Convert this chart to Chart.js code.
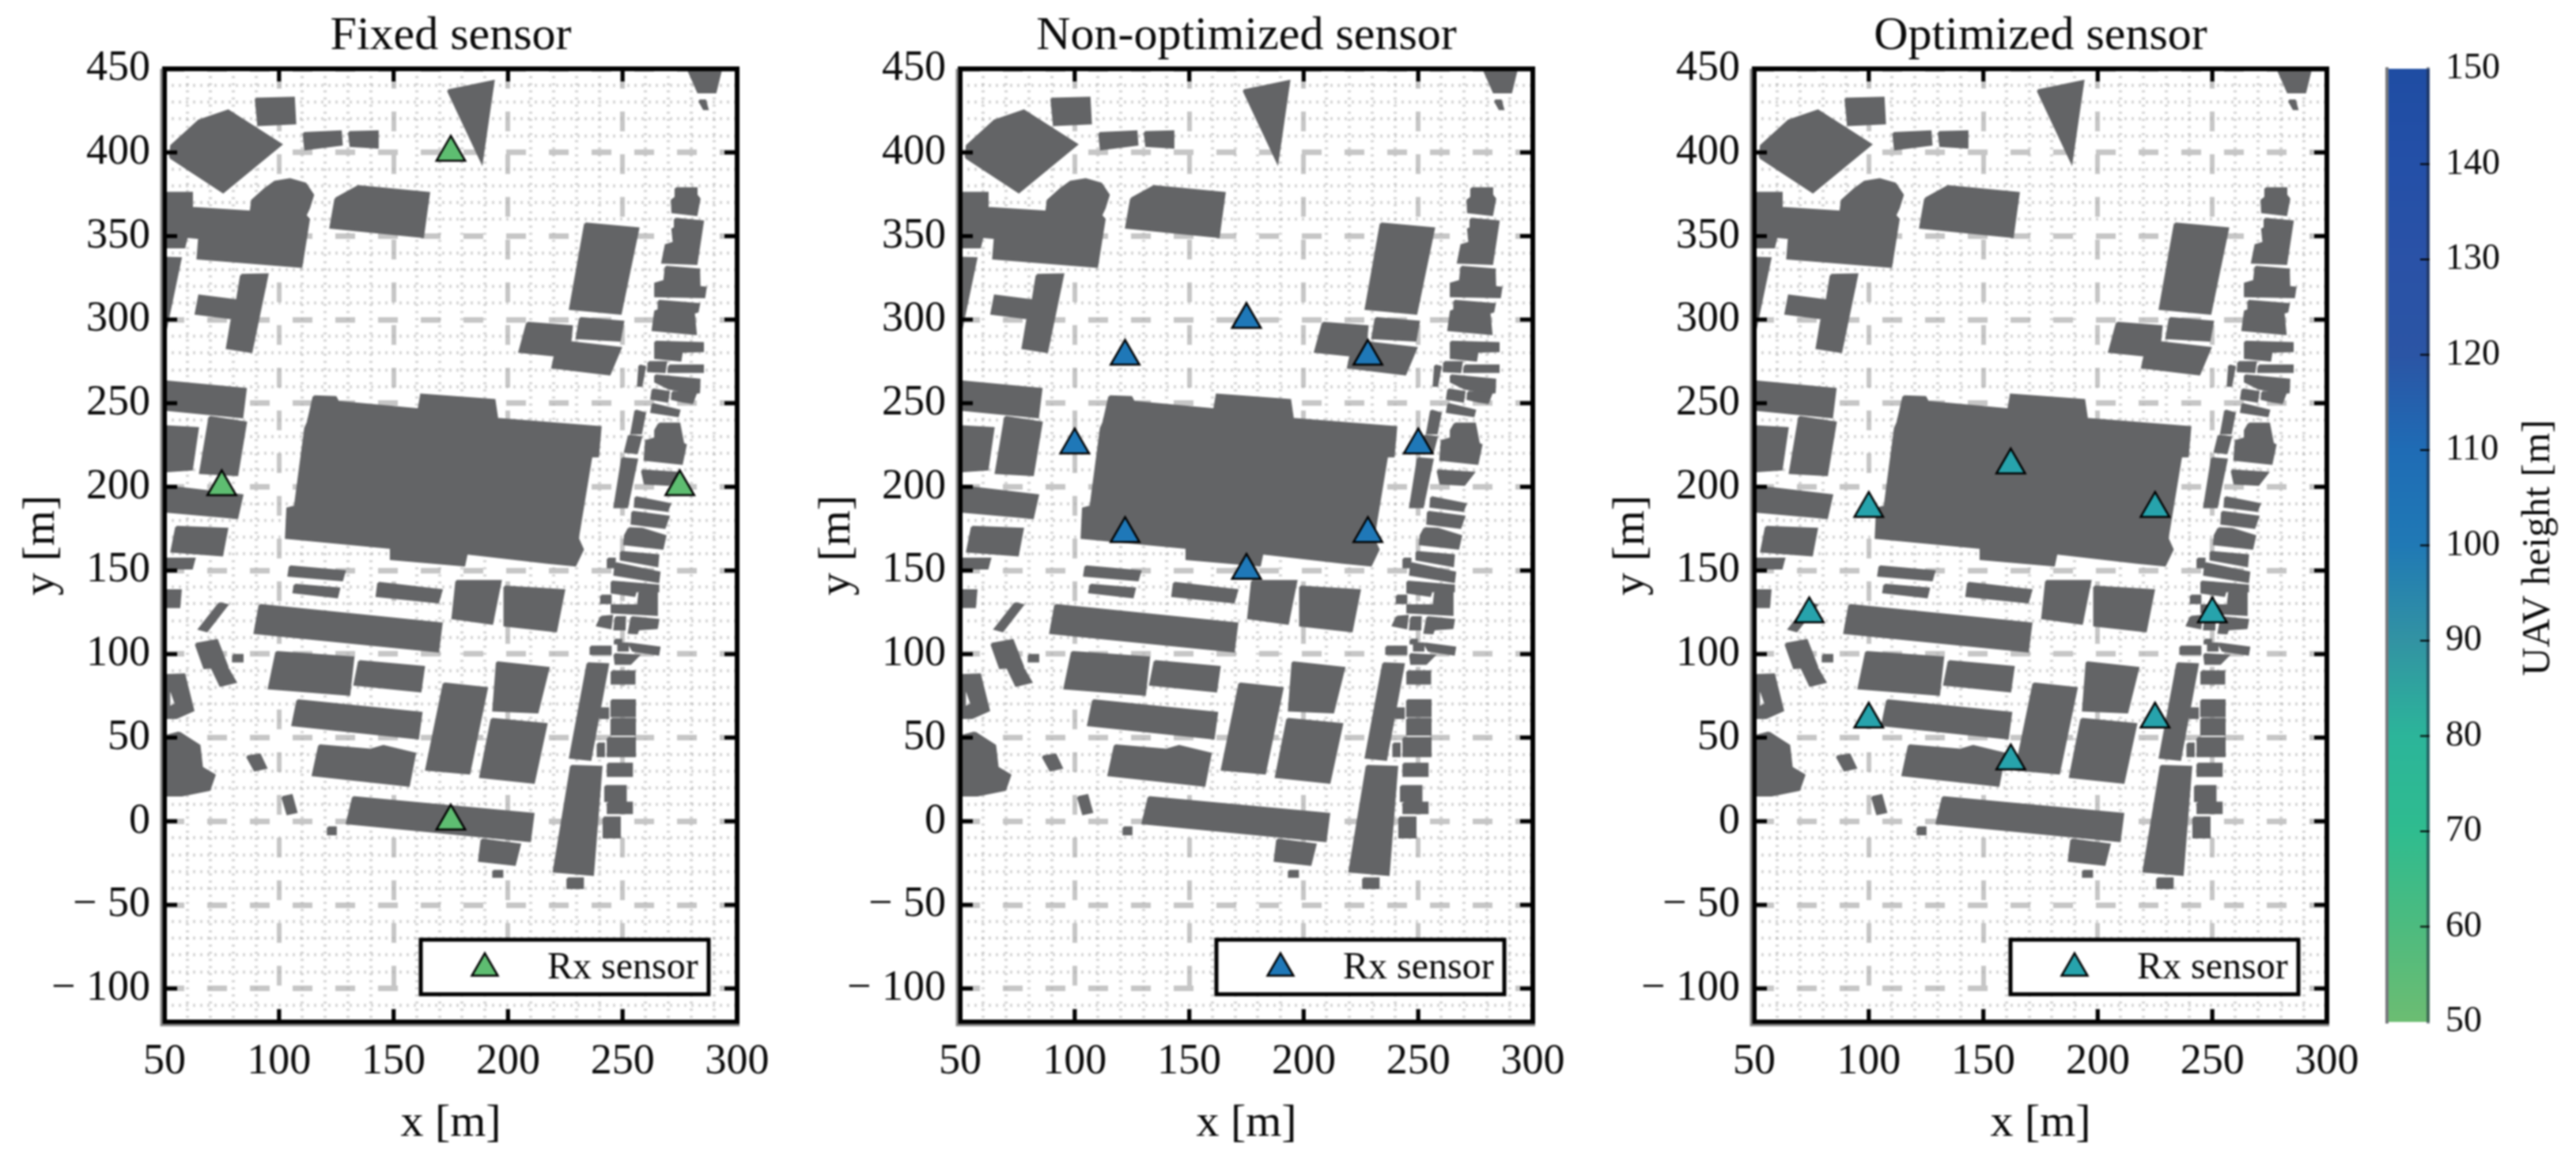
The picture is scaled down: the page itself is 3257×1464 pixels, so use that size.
<!DOCTYPE html>
<html>
<head>
<meta charset="utf-8">
<title>UAV sensor placement</title>
<script src="https://cdn.jsdelivr.net/npm/chart.js@4"></script>
<style>
    html, body { margin: 0; padding: 0; background: #fff; }
    body { position: relative; width: 3257px; height: 1464px; overflow: hidden; }
    canvas { position: absolute; top: 0; filter: blur(0.9px); }
</style>
</head>
<body>
<canvas id="panel0" width="1000" height="1464" style="left:0"></canvas>
<canvas id="panel1" width="1000" height="1464" style="left:1006px"></canvas>
<canvas id="panel2" width="1000" height="1464" style="left:2010px"></canvas>
<canvas id="colorbar" width="277" height="1464" style="left:2980px"></canvas>
<script>
// ========================================
// DATA
// ========================================

const panelTitles = ['Fixed sensor', 'Non-optimized sensor', 'Optimized sensor'];
const legendLabel = 'Rx sensor';
const xTicksStep = 50;
const yTicksStep = 50;
const minorStep = 10;

const fixedSensors = [[175, 400], [75, 200], [275, 200], [175, 0]];
const nonOptimizedSensors = [[175, 300], [122, 278], [228, 278], [100, 225], [250, 225], [122, 172], [228, 172], [175, 150]];
const optimizedSensors = [[162, 213], [100, 187], [225, 187], [74, 124], [250, 124], [100, 61], [225, 61], [162, 36]];
const sensorColors = ['#5ebd71', '#1f78b8', '#27a3ac'];

const heightTicks = [50, 60, 70, 80, 90, 100, 110, 120, 130, 140, 150];
const heightColors = ['#6cbd72', '#4dbb7f', '#2fbc8f', '#2cb59a', '#3293a3', '#2079b5', '#1f6cb5', '#2b55a5', '#2a52a7', '#2450a8', '#1f4da3'];

// building footprints, x/y in metres
const buildings = [
    [[52.5, 397], [53, 404], [65, 419], [77.8, 425], [100.9, 404.7], [75.6, 376.3]],
    [[89.9, 432], [106.4, 432.6], [107, 417.4], [91, 416.5]],
    [[110.8, 411.4], [126.9, 412.5], [127.3, 404.7], [111.5, 402]],
    [[130.6, 412], [143, 412.5], [143, 403], [131.3, 404]],
    [[173.8, 437], [193.6, 442.6], [188.5, 394.2]],
    [[278.5, 450], [293, 450], [290.5, 436], [283, 436]],
    [[283.5, 431], [286, 431], [287, 426], [285.5, 426]],
    [[50, 375.7], [61.9, 375.7], [61.9, 366.7], [87.7, 364.5], [88.3, 371.2], [93.8, 378], [98.2, 382.4], [104.8, 383.9], [111.5, 381.3], [114.8, 374.6], [113, 366.7], [111.5, 362.3], [113, 360], [109.7, 331.7], [64.5, 336.6], [65.2, 348.9], [59.7, 349.6], [58.6, 343.3], [50, 343.3]],
    [[124.7, 372.3], [134.6, 379.7], [165.4, 375.7], [162.8, 349.6], [122.5, 355.1]],
    [[50, 337], [57, 336.6], [50.5, 294], [50, 294]],
    [[83.5, 326.6], [94.9, 327], [87.9, 280.8], [77.3, 283], [79.5, 300.9], [63.7, 303.6], [65.2, 314.3], [81.7, 311.4]],
    [[233.7, 357.4], [256.8, 354.5], [249.1, 303.6], [227.1, 306.5]],
    [[231.5, 300.9], [250.2, 298.7], [248.7, 287.5], [230, 289]],
    [[208.4, 298], [227.8, 296], [227.1, 286.4], [249.1, 283], [244.3, 267.4], [219.4, 271.4], [220.5, 278.6], [205, 280.8]],
    // main hall
    [[115.2, 254], [124.7, 253.6], [125.8, 250.7], [161, 246.2], [162.1, 255.1], [194, 251.8], [195.2, 240.6], [240.3, 235.7], [239.2, 218.3], [236.3, 218.3], [230.4, 169.2], [232.6, 162.5], [229.3, 153.1], [217.2, 154.7], [181.9, 160.3], [180.8, 153.1], [148.9, 156.9], [148.9, 163.6], [103.1, 169.6], [103.7, 187], [107, 188.2], [111.5, 235], [112.6, 238.4]],
    // west side
    [[50, 263], [85.4, 258.5], [83.9, 241.7], [50, 246.2]],
    [[50, 236.2], [64.5, 235], [61.9, 210.5], [50, 209.4]],
    [[69.7, 241.7], [85.5, 238.4], [81.7, 207.1], [65.6, 208.3]],
    [[50, 200.4], [83.9, 194.9], [81.7, 181.5], [50, 185.3]],
    [[55.2, 176], [77.3, 174.8], [75.1, 159.1], [53.1, 161.4]],
    [[50, 156.9], [63, 156.9], [61.9, 151.3], [50, 151.3]],
    [[50, 138], [57, 138], [56.4, 128.2], [50, 128.2]],
    [[74, 130.4], [77.3, 129.3], [68.5, 113.8], [65.2, 115]],
    [[63.7, 106], [72.9, 108.3], [77.3, 92.8], [67.4, 91.7]],
    [[70.7, 91.7], [76.9, 92.8], [81, 83.3], [74.4, 81.1]],
    [[80, 99.4], [84, 99.4], [84, 95.7], [80, 95.7]],
    [[50, 87.3], [58.6, 87.7], [62.5, 66.3], [55.2, 61.9], [50, 61.9], [50, 72.9], [52, 72.9], [52, 68], [55, 70], [53, 78], [52, 78], [52, 73.1], [50, 73.1]],
    [[56.4, 53], [65.2, 45.3], [66.3, 32], [71.8, 27.6], [69.6, 18.8], [57.5, 15.5], [50, 15.5], [50, 50.8]],
    [[86.1, 38.7], [91.6, 39.8], [94.3, 32], [89.4, 30.5]],
    [[101.5, 14.4], [105.5, 15.5], [107.5, 5.5], [103.7, 4.4]],
    [[121.4, -3.8], [124.7, -3.8], [124.7, -7.7], [121.4, -7.7]],
    // south block
    [[91.6, 129.3], [170.9, 118.2], [169.4, 101.7], [89.4, 112.7]],
    [[98.9, 101.2], [132.4, 97.9], [130.6, 75.8], [95.6, 79.6]],
    [[135, 95.7], [163.2, 92.2], [161.7, 77.8], [133, 81.8]],
    [[108.1, 72.3], [162.1, 64.8], [160.6, 49.7], [105.9, 57.5]],
    [[117.6, 45.3], [140, 42.7], [145.6, 44.9], [159.3, 40.4], [156.6, 21.4], [114.8, 27.6]],
    [[132.4, 14.4], [211, 4.4], [209.5, -11.7], [129.7, -1.1]],
    [[188.5, -11], [205.1, -13.9], [202.9, -25.9], [187.4, -23.6]],
    [[193.6, -29.8], [197.4, -29.8], [197.4, -33.1], [193.6, -33.1]],
    [[172, 82.4], [190.7, 79.6], [183, 28.7], [164.3, 30.9]],
    [[195.2, 95], [217.6, 91.7], [212.8, 65.2], [193.6, 66.3]],
    [[192.9, 61.2], [216.7, 58.1], [211.2, 23.2], [187.9, 26.5]],
    [[177.5, 143.6], [196.7, 143.6], [193, 118.2], [175.8, 121.5]],
    [[198.5, 140.3], [224.4, 138.1], [220.9, 113.8], [198.5, 117.1]],
    [[143.4, 142.5], [170.9, 138.1], [169.4, 131], [142.7, 134.8]],
    [[107, 141.4], [126.2, 139.2], [125.3, 134.1], [106.4, 137]],
    [[104.8, 152.4], [128.6, 149.5], [127.5, 144.2], [104.2, 146.9]],
    [[227.6, 33], [240.7, 32.5], [237, -32], [220, -30]],
    [[234.8, 94.4], [243.6, 93.9], [235.9, 36.9], [227.1, 38.2]],
    [[226, -34.3], [232.6, -34.3], [232.6, -39.8], [226, -39.8]],
    // east strip, south to north
    [[245.2, 72.3], [255.3, 72.3], [255.3, 63], [245.2, 63]],
    [[245.2, 61.2], [255.3, 61.2], [255.3, 51.9], [245.2, 51.9]],
    [[243.6, 49.7], [255.3, 49.7], [255.3, 39.1], [243.6, 39.1]],
    [[243.6, 34.3], [254, 34.3], [254, 27.2], [243.6, 27.2]],
    [[242.5, 21], [251.3, 21], [251.3, 12.2], [242.5, 12.2]],
    [[243.6, 11], [254, 11], [254, 5], [243.6, 5]],
    [[241.8, 2.2], [248.7, 2.2], [248.7, -9.5], [241.8, -9.5]],
    [[240.3, 67.4], [243.6, 67.4], [243.6, 61.9], [240.3, 61.9]],
    [[239.2, 46.4], [241.8, 46.4], [241.8, 39.1], [239.2, 39.1]],
    [[245.3, 89.6], [255.1, 89.6], [255.1, 82.5], [245.3, 82.5]],
    [[246.5, 99.8], [256.8, 99], [253.4, 94.3], [247, 94.3]],
    [[252.8, 106.2], [266, 103.8], [265.5, 99.8], [254.5, 102.2]],
    [[248.2, 106.2], [252.2, 106.2], [252.2, 102.2], [248.2, 102.2]],
    [[236.1, 104.3], [244.7, 104.3], [244.7, 100.2], [236.1, 100.2]],
    [[246.7, 108.5], [249.3, 108.5], [249.3, 106.5], [246.7, 106.5]],
    [[254, 121.9], [265.5, 120.4], [264.9, 115.6], [256.8, 114.8], [256.2, 112.5], [252.8, 112.8]],
    [[247, 121.9], [251, 121.9], [250.8, 114.8], [246.5, 114.8]],
    [[240.7, 122.2], [245.3, 122.7], [244.7, 115.6], [239, 117.2]],
    [[257.4, 136.9], [264.9, 136.9], [264.9, 123.5], [245.3, 125], [245.3, 129], [256.8, 129]],
    [[240.7, 134.9], [244.7, 134.9], [244.7, 130.6], [240.7, 130.6]],
    [[245.3, 143.2], [265.5, 140.9], [265.5, 137.7], [255.7, 137.7], [255.1, 134.9], [245.3, 136.9]],
    [[247, 154.3], [266, 148.7], [265.5, 143.2], [246.5, 147.5]],
    [[243.6, 157], [246.5, 157], [246.5, 152], [243.6, 152]],
    [[249.3, 161], [265.5, 159], [265.1, 152.7], [249.3, 156.6]],
    [[252.8, 175.2], [258.6, 174.8], [268.6, 170.5], [267.4, 163.2], [250.8, 165.8], [251.1, 170.8]],
    [[254.3, 185], [270, 182.2], [268.3, 175.6], [254, 178]],
    [[255.7, 193.7], [270.6, 189.7], [269.5, 185.8], [255.4, 188.2]],
    [[249.9, 217], [256.2, 216.3], [251.9, 188], [246.5, 188]],
    [[258.5, 209.7], [274.1, 208.4], [270.1, 201.3], [259.7, 202.1]],
    [[266, 237.7], [274.7, 237.7], [276.4, 225.8], [277.5, 225], [275.8, 213.9], [259.7, 216.3], [260.3, 227.4], [264.3, 229], [264.3, 233.7]],
    [[252.8, 230.5], [258, 229.7], [256.2, 220.3], [251.1, 221]],
    [[255.7, 245.6], [259.7, 244], [258, 232.1], [253.9, 232.1]],
    [[263.2, 249.5], [274.7, 245.6], [274.1, 242.4], [262.6, 244.8]],
    [[263.2, 258.2], [270.1, 256.6], [269.5, 251.1], [262.6, 252.7]],
    [[271.8, 256.6], [281.9, 255.9], [280.4, 250.3], [276.4, 251.1], [271.6, 252.6]],
    [[264.3, 266.6], [283.5, 264.1], [283.3, 256.6], [279.8, 256.2], [270.1, 259], [264.3, 262.9]],
    [[257.4, 272.5], [259.7, 271.7], [258.2, 260.6], [256.8, 260.6]],
    [[270.4, 272.5], [285, 272.5], [285, 268.8], [270.1, 268.8]],
    [[261.4, 274.5], [268.9, 274.5], [268.3, 268.8], [261.2, 269.3]],
    [[264.3, 286.7], [285, 285.9], [285, 281.2], [275.8, 280.9], [275.2, 275.6], [264.3, 277.2]],
    [[265.8, 311.2], [283.3, 309.2], [282.7, 304.9], [281, 304.1], [281.9, 291.5], [263.2, 293.8], [264.3, 304.9], [265.8, 305.7]],
    [[268.9, 331.5], [283.3, 329.9], [283.5, 319.5], [286.2, 319.1], [285.6, 313.6], [264.3, 314.1], [264.3, 321.5], [268.3, 323.1]],
    [[272.9, 360.3], [285, 358.7], [282.2, 333.4], [267.4, 334.2], [268.9, 344.5], [272.4, 346], [271.8, 354], [272.9, 354.7]],
    [[273.2, 378.5], [282.2, 378.5], [282.2, 374.5], [283.5, 372.2], [282.2, 362.7], [271.8, 364.3], [271.6, 371.4], [273.2, 373]]
];

// ========================================
// STYLE
// ========================================

const FONT_FAMILY = '"Liberation Serif", "Times New Roman", serif';
const TEXT_COLOR = '#0a0a0a';
const BUILDING_COLOR = '#636466';
const MAJOR_GRID = '#c6c6c6';
const MINOR_GRID = 'rgba(175, 175, 175, 0.5)';

const sensorSets = [fixedSensors, nonOptimizedSensors, optimizedSensors];

// ========================================
// PLUGINS
// ========================================

// black box with inward ticks on all four sides
const framePlugin = {
    id: 'frame',
    afterDatasetsDraw(chart) {
        const { ctx, chartArea: a, scales } = chart;
        ctx.save();
        ctx.strokeStyle = '#000';
        ctx.lineWidth = 5;
        scales.x.ticks.forEach((t, i) => {
            const px = scales.x.getPixelForTick(i);
            ctx.beginPath();
            ctx.moveTo(px, a.top); ctx.lineTo(px, a.top + 16);
            ctx.moveTo(px, a.bottom); ctx.lineTo(px, a.bottom - 16);
            ctx.stroke();
        });
        scales.y.ticks.forEach((t, i) => {
            const py = scales.y.getPixelForTick(i);
            ctx.beginPath();
            ctx.moveTo(a.left, py); ctx.lineTo(a.left + 16, py);
            ctx.moveTo(a.right, py); ctx.lineTo(a.right - 16, py);
            ctx.stroke();
        });
        ctx.lineWidth = 6;
        ctx.strokeRect(a.left, a.top, a.right - a.left, a.bottom - a.top);
        // resampling fringe on the left and bottom edge
        ctx.strokeStyle = '#8a8a8a';
        ctx.lineWidth = 3;
        ctx.beginPath();
        ctx.moveTo(a.left - 4, a.top);
        ctx.lineTo(a.left - 4, a.bottom + 4);
        ctx.lineTo(a.right + 3, a.bottom + 4);
        ctx.stroke();
        ctx.restore();
    }
};

const sensorLegendPlugin = {
    id: 'sensorLegend',
    afterDraw(chart) {
        const { ctx, chartArea: a } = chart;
        const ds = chart.data.datasets[0];
        const left = a.left + 324;
        const top = a.top + 1101;
        ctx.save();
        ctx.fillStyle = '#fff';
        ctx.strokeStyle = '#000';
        ctx.lineWidth = 5;
        ctx.fillRect(left, top, 364, 69);
        ctx.strokeRect(left, top, 364, 69);
        ctx.fillStyle = ds.pointBackgroundColor;
        ctx.lineWidth = 2.5;
        Chart.helpers.drawPoint(ctx, { pointStyle: 'triangle', radius: 19, borderWidth: 2.5 }, left + 81, top + 36);
        ctx.fillStyle = TEXT_COLOR;
        ctx.font = `48px ${FONT_FAMILY}`;
        ctx.textBaseline = 'middle';
        ctx.fillText(ds.label, left + 160, top + 36);
        ctx.restore();
    }
};

const colorbarPlugin = {
    id: 'colorbarDecor',
    afterDraw(chart) {
        const { ctx, chartArea: a, scales } = chart;
        ctx.save();
        ctx.fillStyle = '#77787c';
        ctx.fillRect(a.left, a.top - 2, 4, a.bottom - a.top + 4);
        ctx.fillStyle = 'rgba(30, 40, 60, 0.55)';
        ctx.fillRect(a.right - 4, a.top - 2, 4, a.bottom - a.top + 4);
        ctx.strokeStyle = '#000';
        ctx.lineWidth = 2;
        scales.y.ticks.forEach((t, i) => {
            const py = scales.y.getPixelForTick(i);
            if (i === 0 || i === scales.y.ticks.length - 1) return;
            ctx.beginPath();
            ctx.moveTo(a.right, py); ctx.lineTo(a.right - 12, py);
            ctx.stroke();
        });
        ctx.translate(a.right + 138, (a.top + a.bottom) / 2 + 3);
        ctx.rotate(-Math.PI / 2);
        ctx.fillStyle = TEXT_COLOR;
        ctx.font = `50px ${FONT_FAMILY}`;
        ctx.textAlign = 'center';
        ctx.textBaseline = 'middle';
        ctx.fillText('UAV height [m]', 0, 0);
        ctx.restore();
    }
};

// ========================================
// CHART BUILDERS
// ========================================

function buildingDatasets() {
    return buildings.map(poly => ({
        label: 'building',
        data: [...poly, poly[0]],
        showLine: true,
        fill: 'shape',
        backgroundColor: BUILDING_COLOR,
        borderColor: BUILDING_COLOR,
        borderWidth: 3,
        pointRadius: 0
    }));
}

function createPanel(index) {
    const minorColor = ctx => (ctx.tick && ctx.tick.value % 50 === 0 ? 'rgba(0,0,0,0)' : MINOR_GRID);
    const hiddenAxis = (axis, position, min, max) => ({
        axis: axis,
        type: 'linear',
        position: position,
        min: min,
        max: max,
        ticks: { display: false, stepSize: minorStep, includeBounds: false },
        border: { display: false, dash: [3, 6] },
        grid: { color: minorColor, lineWidth: 4, drawTicks: false }
    });

    new Chart(document.getElementById(`panel${index}`), {
        type: 'scatter',
        data: {
            datasets: [{
                label: legendLabel,
                data: sensorSets[index],
                pointStyle: 'triangle',
                pointRadius: 21,
                pointHoverRadius: 21,
                pointBackgroundColor: sensorColors[index],
                pointBorderColor: '#000',
                pointBorderWidth: 2.5
            }, ...buildingDatasets()]
        },
        options: {
            responsive: false,
            animation: false,
            devicePixelRatio: 1,
            layout: { padding: { left: 0, right: 68, top: 0, bottom: 0 } },
            plugins: {
                legend: { display: false },
                tooltip: { enabled: false },
                title: {
                    display: true,
                    fullSize: false,
                    text: panelTitles[index],
                    color: TEXT_COLOR,
                    font: { family: FONT_FAMILY, size: 60, weight: 'normal', lineHeight: 1.2 },
                    padding: { top: 10, bottom: 5 }
                }
            },
            scales: {
                x: {
                    type: 'linear',
                    min: 50,
                    max: 300,
                    afterFit: scale => { scale.height = 172; },
                    ticks: {
                        stepSize: xTicksStep,
                        color: TEXT_COLOR,
                        font: { family: FONT_FAMILY, size: 54 },
                        padding: 18,
                        maxRotation: 0
                    },
                    border: { display: false, dash: [25, 29] },
                    grid: { color: MAJOR_GRID, lineWidth: 6, drawTicks: false },
                    title: {
                        display: true,
                        text: 'x [m]',
                        color: TEXT_COLOR,
                        font: { family: FONT_FAMILY, size: 58 },
                        padding: { top: 0, bottom: 8 }
                    }
                },
                y: {
                    type: 'linear',
                    min: -120,
                    max: 450,
                    afterFit: scale => { scale.width = 208; },
                    ticks: {
                        stepSize: yTicksStep,
                        includeBounds: false,
                        color: TEXT_COLOR,
                        font: { family: FONT_FAMILY, size: 54 },
                        padding: 18,
                        callback: v => (v < 0 ? `\u2212 ${-v}` : `${v}`)
                    },
                    border: { display: false, dash: [25, 29] },
                    grid: { color: MAJOR_GRID, lineWidth: 7, drawTicks: false },
                    title: {
                        display: true,
                        text: 'y [m]',
                        color: TEXT_COLOR,
                        font: { family: FONT_FAMILY, size: 58 },
                        padding: { top: 18, bottom: 0 }
                    }
                },
                xMinor: hiddenAxis('x', 'bottom', 50, 300),
                yMinor: hiddenAxis('y', 'left', -120, 450)
            }
        },
        plugins: [framePlugin, sensorLegendPlugin]
    });
}

function createColorbar() {
    new Chart(document.getElementById('colorbar'), {
        type: 'bar',
        data: {
            labels: ['UAV height'],
            datasets: [{
                data: [[heightTicks[0], heightTicks[heightTicks.length - 1]]],
                barPercentage: 1,
                categoryPercentage: 1,
                backgroundColor: ctx => {
                    const area = ctx.chart.chartArea;
                    if (!area) return heightColors[0];
                    const g = ctx.chart.ctx.createLinearGradient(0, area.bottom, 0, area.top);
                    heightTicks.forEach((v, i) => g.addColorStop((v - 50) / 100, heightColors[i]));
                    return g;
                }
            }]
        },
        options: {
            responsive: false,
            animation: false,
            devicePixelRatio: 1,
            layout: { padding: { left: 36, right: 0, top: 87, bottom: 172 } },
            plugins: { legend: { display: false }, tooltip: { enabled: false } },
            scales: {
                x: { display: false },
                y: {
                    position: 'right',
                    min: 50,
                    max: 150,
                    afterFit: scale => { scale.width = 185; },
                    ticks: {
                        stepSize: 10,
                        color: TEXT_COLOR,
                        font: { family: FONT_FAMILY, size: 46 },
                        padding: 20
                    },
                    border: { display: false },
                    grid: { display: false, drawTicks: false }
                }
            }
        },
        plugins: [colorbarPlugin]
    });
}

// ========================================
// INITIALIZATION
// ========================================

[0, 1, 2].forEach(createPanel);
createColorbar();
</script>
</body>
</html>
